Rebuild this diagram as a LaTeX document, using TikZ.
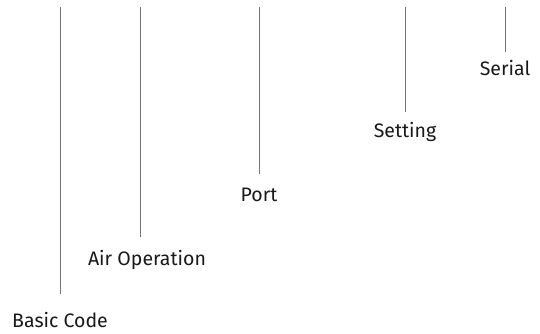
\documentclass[tikz,border=0pt]{standalone}
\usepackage{fontspec}
\setmainfont{Fira Sans}
\usepackage{tikz}

\begin{document}
\begin{tikzpicture}[x=1pt, y=-1pt,
    stem/.style={draw=black!55, line width=0.9pt},
    tag/.style={anchor=base, inner sep=0pt, font=\fontsize{19.5}{22}\selectfont, text=black!90}]
  \useasboundingbox (0,0) rectangle (540,334);
  % stems hanging from the top edge
  \foreach \name/\x/\y/\lx/\ly/\txt in {basic/60/294/60/327/Basic Code,
                                       air/140/237/147/265/Air Operation,
                                       port/259/174/259/201/Port,
                                       setting/405/112/405/137/Setting,
                                       serial/505/52/505/76/Serial} {
    \coordinate (\name top) at (\x,7);
    \coordinate (\name end) at (\x,\y);
    \node[tag] (\name) at (\lx,\ly) {\txt};
    \draw[stem] (\name top) -- (\name end);
  }
\end{tikzpicture}
\end{document}
